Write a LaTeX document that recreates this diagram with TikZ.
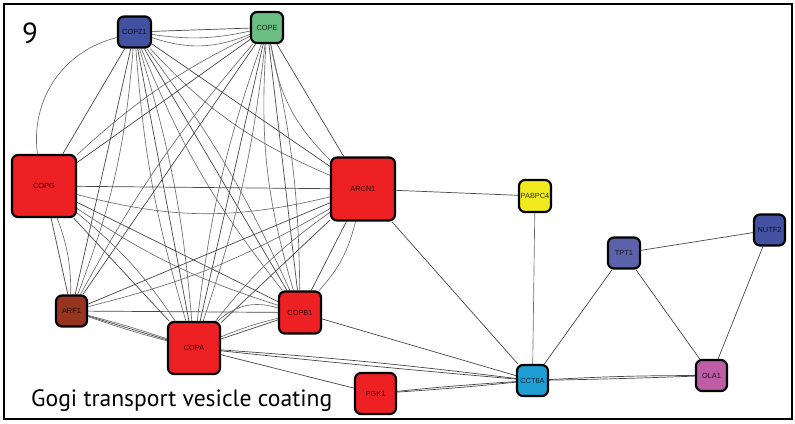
\documentclass[tikz,border=0pt]{standalone}
\usepackage{fontspec}
\setmainfont{Liberation Sans}
\newfontfamily\titlefont{PT Sans}
\usetikzlibrary{backgrounds}
\definecolor{cred}{RGB}{237,32,36}
\definecolor{cblue}{RGB}{66,82,160}
\definecolor{cblue2}{RGB}{92,98,170}
\definecolor{cgreen}{RGB}{108,190,130}
\definecolor{cbrown}{RGB}{150,52,32}
\definecolor{cyellow}{RGB}{240,234,30}
\definecolor{ccyan}{RGB}{30,158,210}
\definecolor{cpink}{RGB}{190,92,165}
\begin{document}
\begin{tikzpicture}[x=1pt,y=1pt,
  gene/.style={draw=black, line width=2.2pt, rounded corners=6pt, inner sep=0pt,
    font=\fontsize{7.4}{8}\selectfont, text=black, text opacity=0.8},
  ed/.style={draw=black!72, line width=0.7pt},
  edl/.style={draw=black!58, line width=0.65pt},
  lbl/.style={inner sep=0pt, anchor=base west, text=black}
]
\useasboundingbox (0,0) rectangle (795,-423);
\draw[line width=2.4pt] (4,-4) rectangle (792,-419);

\node[gene, fill=cblue,   minimum width=33pt, minimum height=31pt] (copz1)  at (134.5,-32)  {COPZ1};
\node[gene, fill=cgreen,  minimum width=32pt, minimum height=31pt] (cope)   at (267,-27.5)  {COPE};
\node[gene, fill=cred,    minimum width=64pt, minimum height=62pt] (copg)   at (44,-186)    {COPG};
\node[gene, fill=cred,    minimum width=64pt, minimum height=63pt] (arcn1)  at (363,-189)   {ARCN1};
\node[gene, fill=cbrown,  minimum width=31pt, minimum height=31pt] (arf1)   at (71.5,-311)  {ARF1};
\node[gene, fill=cred,    minimum width=52pt, minimum height=52pt] (copa)   at (194,-348)   {COPA};
\node[gene, fill=cred,    minimum width=42pt, minimum height=42pt] (copb1)  at (300,-312.5) {COPB1};
\node[gene, fill=cred,    minimum width=41pt, minimum height=41pt] (pgk1)   at (375.5,-393.5) {PGK1};
\node[gene, fill=cyellow, minimum width=32pt, minimum height=32pt] (pabpc4) at (535,-196)   {PABPC4};
\node[gene, fill=cblue2,  minimum width=32pt, minimum height=31pt] (tpt1)   at (624,-253)   {TPT1};
\node[gene, fill=cblue,   minimum width=31pt, minimum height=31pt] (nutf2)  at (769.5,-230) {NUTF2};
\node[gene, fill=ccyan,   minimum width=31pt, minimum height=31pt] (cct6a)  at (532.5,-380.5) {CCT6A};
\node[gene, fill=cpink,   minimum width=31pt, minimum height=31pt] (ola1)   at (711.5,-375.5) {OLA1};

\node[lbl, font=\titlefont\fontsize{29}{30}\selectfont] (num) at (22,-43) {9};
\node[lbl, font=\titlefont\fontsize{23.6}{25}\selectfont] (title) at (31,-406) {Gogi transport vesicle coating};

\begin{scope}[on background layer]
% COPZ1
\draw[ed] (copz1) -- (cope);
\draw[edl] (copz1) to[bend right=10] (cope);
\draw[edl] (copz1) to[bend right=20] (cope);
\draw[ed] (copg) -- (copz1);
\draw[edl] (copg) to[bend left=42] (copz1);
\draw[ed] (copz1) -- (arcn1);
\draw[edl] (copz1) to[bend right=12] (arcn1);
\draw[ed] (copz1) -- (arf1);
\draw[edl] (copz1) to[bend left=8] (arf1);
\draw[ed] (copz1) -- (copa);
\draw[edl] (copz1) to[bend left=6] (copa);
\draw[edl] (copz1) to[bend right=6] (copa);
\draw[ed] (copz1) -- (copb1);
\draw[edl] (copz1) to[bend left=6] (copb1);
\draw[edl] (copz1) to[bend right=8] (copb1);
% COPE
\draw[ed] (copg) -- (cope);
\draw[edl] (copg) to[bend left=8] (cope);
\draw[ed] (cope) -- (arcn1);
\draw[edl] (cope) to[bend right=18] (arcn1);
\draw[ed] (cope) -- (arf1);
\draw[edl] (cope) to[bend right=6] (arf1);
\draw[ed] (cope) -- (copa);
\draw[edl] (cope) to[bend left=6] (copa);
\draw[edl] (cope) to[bend right=6] (copa);
\draw[ed] (cope) -- (copb1);
\draw[edl] (cope) to[bend left=6] (copb1);
\draw[edl] (cope) to[bend right=10] (copb1);
% COPG
\draw[ed] (copg) -- (arcn1);
\draw[edl] (copg) to[bend right=14] (arcn1);
\draw[ed] (copg) -- (arf1);
\draw[edl] (copg) to[bend left=10] (arf1);
\draw[ed] (copg) -- (copa);
\draw[edl] (copg) to[bend left=8] (copa);
\draw[ed] (copg) -- (copb1);
\draw[edl] (copg) to[bend right=8] (copb1);
% ARCN1
\draw[ed] (arcn1) -- (arf1);
\draw[edl] (arcn1) to[bend left=8] (arf1);
\draw[ed] (arcn1) -- (copa);
\draw[edl] (arcn1) to[bend right=8] (copa);
\draw[ed] (arcn1) -- (copb1);
\draw[edl] (arcn1) to[bend left=14] (copb1);
% ARF1
\draw[ed] (arf1) -- (copa);
\draw[edl] (arf1) to[bend left=2] (copa);
\draw[edl] (arf1) to[bend right=2] (copa);
\draw[ed] (arf1) -- (copb1);
% COPA-COPB1
\draw[ed] (copa) -- (copb1);
\draw[edl] (copa) to[bend left=4] (copb1);
\draw[edl] (copa) to[bend left=30] (copb1);
% outer
\draw[ed] (arcn1) -- (pabpc4);
\draw[ed] (arcn1) -- (cct6a);
\draw[edl] (pabpc4) -- (cct6a);
\draw[ed] (copb1) -- (cct6a);
\draw[ed] (copa) to[bend left=1.5] (cct6a);
\draw[ed] (copa) to[bend right=0.5] (cct6a);
\draw[ed] (copa) -- (pgk1);
\draw[ed] (pgk1) to[bend left=1] (cct6a);
\draw[ed] (pgk1) to[bend right=1] (cct6a);
\draw[ed] (cct6a) -- (tpt1);
\draw[ed] (tpt1) -- (nutf2);
\draw[ed] (tpt1) -- (ola1);
\draw[ed] (nutf2) -- (ola1);
\draw[ed] (cct6a) to[bend left=1.5] (ola1);
\draw[ed] (cct6a) to[bend right=0.5] (ola1);
\end{scope}
\end{tikzpicture}
\end{document}
